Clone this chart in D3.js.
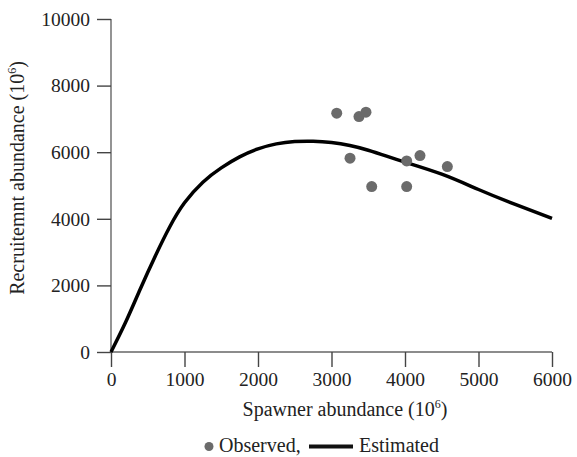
<!DOCTYPE html>
<html><head><meta charset="utf-8">
<script src="https://cdn.jsdelivr.net/npm/d3@7"></script>
<style>
body{margin:0;background:#fff;}
text{font-family:"Liberation Serif","Times New Roman",serif;fill:#222;}
</style></head>
<body><svg id="c" width="577" height="457"></svg>
<script>
// Observed points
const obsS = [3071, 3374, 3469, 3252, 3547, 4023, 4023, 4204, 4576];
const obsR = [7172, 7070, 7203, 5820, 4967, 5739, 4967, 5898, 5568];
// Estimated curve
const estS = [0, 200, 400, 600, 800, 1000, 1250, 1500, 1750, 2000, 2250, 2500, 2750, 3000, 3250, 3500, 3750, 4000, 4500, 5000, 5500, 6000];
const estR = [0, 900, 1900, 2870, 3760, 4480, 5100, 5530, 5860, 6100, 6250, 6320, 6330, 6290, 6200, 6060, 5880, 5700, 5340, 4880, 4430, 4010];
const xTicks = [0, 1000, 2000, 3000, 4000, 5000, 6000];
const yTicks = [0, 2000, 4000, 6000, 8000, 10000];

const svg = d3.select("#c");
const x = d3.scaleLinear().domain([0, 6000]).range([111, 552]);
const y = d3.scaleLinear().domain([0, 10000]).range([352, 19]);
const FS = "19.5px";

// y axis
const ya = svg.append("g").attr("transform", "translate(111,0)")
  .call(d3.axisLeft(y).tickValues(yTicks).tickSize(14).tickPadding(7).tickFormat(d3.format("d")));
ya.select(".domain").attr("stroke", "#666").attr("stroke-width", 1.4).attr("d", "M0,19V352");
ya.selectAll(".tick line").attr("stroke", "#444").attr("stroke-width", 1.4);
ya.selectAll(".tick text").style("font-size", FS).attr("fill", "#222").style("font-family", "Liberation Serif");

// x axis
const xa = svg.append("g").attr("transform", "translate(0,352)")
  .call(d3.axisBottom(x).tickValues(xTicks).tickSize(15).tickPadding(5).tickFormat(d3.format("d")));
xa.select(".domain").attr("stroke", "#666").attr("stroke-width", 1.4).attr("d", "M111,0H552");
xa.selectAll(".tick line").attr("stroke", "#444").attr("stroke-width", 1.4);
xa.selectAll(".tick text").style("font-size", FS).attr("fill", "#222").style("font-family", "Liberation Serif");

// curve
const line = d3.line().x((d, i) => x(estS[i])).y((d, i) => y(estR[i])).curve(d3.curveNatural);
svg.append("path").datum(estS).attr("d", line).attr("fill", "none").attr("stroke", "#000").attr("stroke-width", 3.5);

// points
svg.append("g").selectAll("circle").data(obsS).join("circle")
  .attr("cx", (d) => x(d)).attr("cy", (d, i) => y(obsR[i])).attr("r", 5.5).attr("fill", "#6b6b6b");

// axis titles
const xt = svg.append("text").attr("x", 345).attr("y", 416).attr("text-anchor", "middle").style("font-size", "20px");
xt.append("tspan").text("Spawner abundance (10");
xt.append("tspan").attr("dy", -8).style("font-size", "12px").text("6");
xt.append("tspan").attr("dy", 8).text(")");

const yt = svg.append("text").attr("transform", "translate(24,178) rotate(-90)").attr("text-anchor", "middle").style("font-size", "20px");
yt.append("tspan").text("Recruitemnt abundance (10");
yt.append("tspan").attr("dy", -8).style("font-size", "12px").text("6");
yt.append("tspan").attr("dy", 8).text(")");

// legend
svg.append("circle").attr("cx", 209).attr("cy", 446.5).attr("r", 4.5).attr("fill", "#6b6b6b");
svg.append("text").attr("x", 219).attr("y", 452).style("font-size", "20px").text("Observed,");
svg.append("line").attr("x1", 309).attr("x2", 353).attr("y1", 446.5).attr("y2", 446.5).attr("stroke", "#111").attr("stroke-width", 4);
svg.append("text").attr("x", 359).attr("y", 452).style("font-size", "20px").text("Estimated");
</script></body></html>
